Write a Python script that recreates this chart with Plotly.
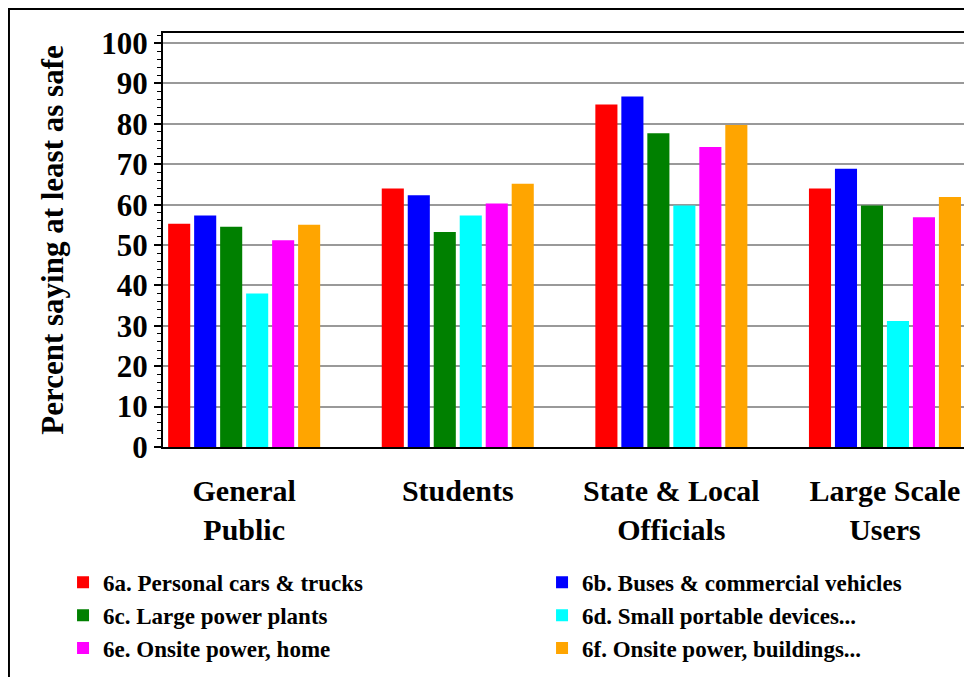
import plotly.graph_objects as go

groups = ["General<br>Public", "Students", "State & Local<br>Officials", "Large Scale<br>Users"]

series_names = [
    "6a. Personal cars & trucks",
    "6b. Buses & commercial vehicles",
    "6c. Large power plants",
    "6d. Small portable devices...",
    "6e. Onsite power, home",
    "6f. Onsite power, buildings...",
]
series_colors = ["#FF0000", "#0000FF", "#008000", "#00FFFF", "#FF00FF", "#FFA500"]

personal_cars = [55.3, 64.0, 84.8, 64.0]
buses = [57.3, 62.3, 86.8, 68.9]
power_plants = [54.5, 53.2, 77.7, 59.8]
portable_devices = [38.0, 57.3, 59.8, 31.2]
onsite_home = [51.2, 60.3, 74.3, 56.9]
onsite_buildings = [55.0, 65.2, 79.7, 61.9]

series_values = [personal_cars, buses, power_plants, portable_devices, onsite_home, onsite_buildings]

FONT = "Liberation Serif, Times New Roman, serif"

fig = go.Figure()
for name, color, vals in zip(series_names, series_colors, series_values):
    fig.add_trace(go.Bar(name=name, x=groups, y=vals, marker_color=color, marker_line_width=0))

# the page body has an 8px margin, so the margins are shifted to compensate
fig.update_layout(
    width=972,
    height=677,
    barmode="group",
    bargap=0.27,
    bargroupgap=0.15,
    plot_bgcolor="white",
    paper_bgcolor="white",
    font=dict(family=FONT, color="black"),
    margin=dict(l=155, r=16, t=25, b=238, autoexpand=False),
    showlegend=True,
    legend=dict(
        orientation="h",
        x=-0.1248,
        xanchor="left",
        y=-0.275,
        yanchor="top",
        entrywidthmode="pixels",
        entrywidth=434,
        font=dict(family=FONT, size=23, color="black", weight="bold"),
        itemwidth=30,
        traceorder="normal",
        bgcolor="rgba(0,0,0,0)",
    ),
)

fig.update_yaxes(
    range=[0, 102.5],
    dtick=10,
    showgrid=True,
    gridcolor="#999999",
    gridwidth=1.5,
    showline=True,
    linecolor="black",
    linewidth=2,
    mirror=True,
    ticks="outside",
    ticklen=7,
    tickwidth=1.5,
    tickcolor="black",
    minor=dict(dtick=2, ticks="outside", ticklen=4, tickcolor="black", tickwidth=1, showgrid=False),
    tickfont=dict(family=FONT, size=31, weight="bold"),
    ticklabelstandoff=0,
    zeroline=False,
    title=dict(
        text="Percent saying at least as safe",
        font=dict(family=FONT, size=31, weight="bold"),
        standoff=28,
    ),
)

fig.update_xaxes(
    range=[-0.38, 3.37],
    showline=True,
    linecolor="black",
    linewidth=2,
    mirror=True,
    ticks="",
    tickfont=dict(family=FONT, size=30, weight="bold"),
    ticklabelstandoff=16,
)

# outer frame around the whole picture
fig.add_shape(
    type="rect", xref="paper", yref="paper",
    x0=-0.1923, x1=1.03, y0=-0.62, y1=1.058,
    line=dict(color="black", width=2), fillcolor="rgba(0,0,0,0)", layer="below",
)

fig.write_html("out.html")
